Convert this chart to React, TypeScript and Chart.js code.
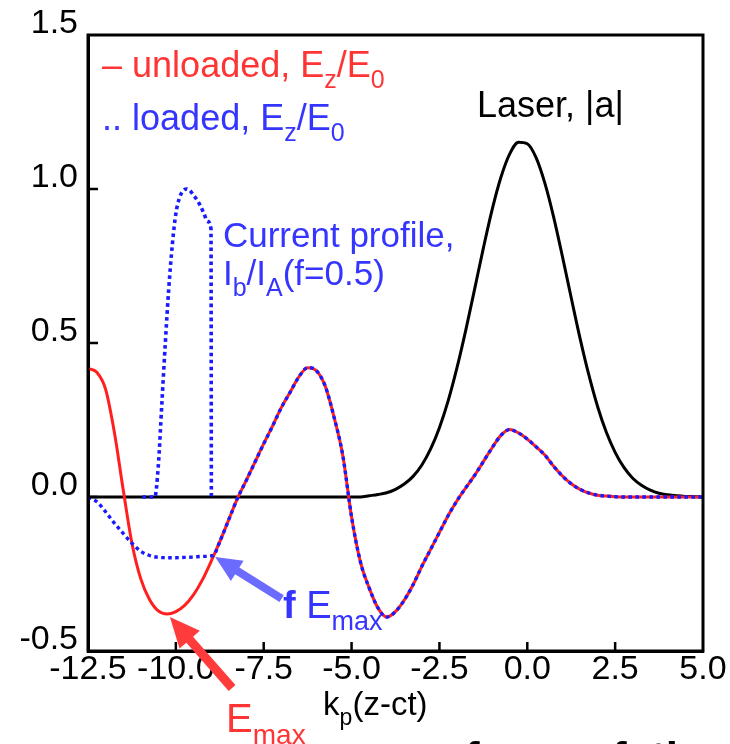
import React, { useEffect, useRef } from "react";
import { Chart, registerables } from "chart.js";
Chart.register(...registerables);

// ---- data ----
const zGrid = [
  -12.5, -12.25, -12.0, -11.75, -11.5, -11.25, -11.0, -10.75, -10.5, -10.25,
  -10.0, -9.75, -9.5, -9.25, -9.0, -8.75, -8.5, -8.25, -8.0, -7.75,
  -7.5, -7.25, -7.0, -6.75, -6.5, -6.25, -6.0, -5.75, -5.5, -5.25,
  -5.0, -4.75, -4.5, -4.25, -4.0, -3.75, -3.5, -3.25, -3.0, -2.75,
  -2.5, -2.25, -2.0, -1.75, -1.5, -1.25, -1.0, -0.75, -0.5, -0.25,
  0.0, 0.25, 0.5, 0.75, 1.0, 1.25, 1.5, 1.75, 2.0, 2.25,
  2.5, 2.75, 3.0, 3.25, 3.5, 3.75, 4.0, 4.25, 4.5, 4.75, 5.0,
];

const laserA = [
  0, 0, 0, 0, 0, 0, 0, 0, 0, 0,
  0, 0, 0, 0, 0, 0, 0, 0, 0, 0,
  0, 0, 0, 0, 0, 0, 0, 0, 0, 0,
  0, 0, 0.004, 0.008, 0.014, 0.025, 0.042, 0.067, 0.104, 0.156,
  0.225, 0.313, 0.42, 0.542, 0.674, 0.808, 0.933, 1.038, 1.114, 1.152,
  1.147, 1.102, 1.019, 0.909, 0.781, 0.647, 0.516, 0.397, 0.294, 0.21,
  0.145, 0.096, 0.061, 0.038, 0.022, 0.012, 0.007, 0.004, 0.002, 0.001, 0,
];

const unloadedEz = [
  0.417, 0.405, 0.35, 0.21, 0.025, -0.15, -0.265, -0.333, -0.37, -0.38,
  -0.372, -0.352, -0.318, -0.27, -0.21, -0.145, -0.075, -0.005, 0.053, 0.113,
  0.173, 0.23, 0.29, 0.34, 0.39, 0.42, 0.41, 0.36, 0.26, 0.135,
  -0.065, -0.21, -0.295, -0.36, -0.39, -0.372, -0.335, -0.285, -0.225, -0.17,
  -0.115, -0.06, -0.012, 0.03, 0.07, 0.115, 0.16, 0.2, 0.219, 0.208,
  0.188, 0.163, 0.136, 0.1, 0.068, 0.043, 0.025, 0.013, 0.006, 0.003,
  0.001, 0, 0, 0, 0, 0, 0, 0, 0, 0, 0,
];

// loaded field: differs from the unloaded one only behind the bunch
const loadedHeadZ = [-12.5, -12.25, -12.0, -11.75, -11.5, -11.25, -11.0, -10.75, -10.5, -10.25, -10.0, -9.75, -9.5, -9.25, -8.94];
const loadedHeadEz = [0.0, -0.015, -0.048, -0.085, -0.118, -0.15, -0.176, -0.19, -0.196, -0.197, -0.197, -0.196, -0.195, -0.193, -0.19];
const loadedJoinZ = -8.75; // from here on the loaded field equals the unloaded one

const currentZ = [-10.95, -10.6, -10.5, -10.4, -10.3, -10.2, -10.1, -10.0, -9.9, -9.8, -9.7, -9.6, -9.5, -9.4, -9.3, -9.2, -9.1, -9.0, -8.99];
const currentIb = [0, 0, 0.1, 0.3, 0.5, 0.68, 0.82, 0.92, 0.97, 0.993, 1.0, 0.995, 0.98, 0.965, 0.945, 0.92, 0.895, 0.87, 0];

const xMin = -12.5, xMax = 5.0, xStep = 2.5;
const yMin = -0.5, yMax = 1.5, yStep = 0.5;

const FONT = '"Liberation Sans", Arial, Helvetica, sans-serif';
const RED = "#ff1f1f";
const BLUE = "#1a1aff";
const RED_TEXT = "#ff3535";
const BLUE_TEXT = "#3535ff";

type Part = [string, "n" | "sub" | "b"];

function zip(xs: number[], ys: number[]) {
  return xs.map((x, i) => ({ x, y: ys[i] }));
}

function drawRich(ctx: CanvasRenderingContext2D, x: number, y: number, parts: Part[], size: number, color: string) {
  ctx.save();
  ctx.fillStyle = color;
  ctx.textBaseline = "alphabetic";
  ctx.textAlign = "left";
  let cx = x;
  for (const [t, k] of parts) {
    if (k === "sub") {
      ctx.font = `${Math.round(size * 0.7)}px ${FONT}`;
      ctx.fillText(t, cx, y + size * 0.3);
    } else {
      ctx.font = `${k === "b" ? "bold " : ""}${size}px ${FONT}`;
      ctx.fillText(t, cx, y);
    }
    cx += ctx.measureText(t).width;
  }
  ctx.restore();
}

function drawArrow(ctx: CanvasRenderingContext2D, x1: number, y1: number, x2: number, y2: number, shaft: number, headLen: number, headW: number, color: string) {
  const dx = x2 - x1, dy = y2 - y1;
  const L = Math.hypot(dx, dy);
  const ux = dx / L, uy = dy / L;
  const nx = -uy, ny = ux;
  const bx = x2 - ux * headLen, by = y2 - uy * headLen;
  ctx.save();
  ctx.fillStyle = color;
  ctx.beginPath();
  ctx.moveTo(x1 + nx * shaft / 2, y1 + ny * shaft / 2);
  ctx.lineTo(bx + nx * shaft / 2, by + ny * shaft / 2);
  ctx.lineTo(bx + nx * headW / 2, by + ny * headW / 2);
  ctx.lineTo(x2, y2);
  ctx.lineTo(bx - nx * headW / 2, by - ny * headW / 2);
  ctx.lineTo(bx - nx * shaft / 2, by - ny * shaft / 2);
  ctx.lineTo(x1 - nx * shaft / 2, y1 - ny * shaft / 2);
  ctx.closePath();
  ctx.fill();
  ctx.restore();
}

const decorPlugin = {
  id: "decor",
  afterDraw(chart: any) {
    const ctx: CanvasRenderingContext2D = chart.ctx;
    const { left, right, top, bottom } = chart.chartArea;
    const xs = chart.scales.x, ys = chart.scales.y;
    const px = (v: number) => xs.getPixelForValue(v);
    const py = (v: number) => ys.getPixelForValue(v);

    // frame
    ctx.save();
    ctx.strokeStyle = "#000";
    ctx.lineWidth = 3;
    ctx.strokeRect(left, top, right - left, bottom - top);
    // inward ticks
    ctx.lineWidth = 2.5;
    ctx.beginPath();
    for (const t of xs.ticks) {
      if (t.value <= xMin || t.value >= xMax) continue;
      const x = px(t.value);
      ctx.moveTo(x, bottom);
      ctx.lineTo(x, bottom - 9);
    }
    for (const t of ys.ticks) {
      if (t.value <= yMin || t.value >= yMax) continue;
      const y = py(t.value);
      ctx.moveTo(left, y);
      ctx.lineTo(left + 10, y);
    }
    ctx.stroke();
    ctx.restore();

    // arrows
    drawArrow(ctx, px(-6.99), py(-0.33), px(-8.88), py(-0.195), 8, 26, 24, "#6b6bff");
    drawArrow(ctx, px(-8.4), py(-0.62), px(-10.17), py(-0.39), 9, 30, 27, "#ff3b3b");

    // texts
    drawRich(ctx, px(-12.1), py(1.3627), [["\u2013 unloaded, E", "n"], ["z", "sub"], ["/E", "n"], ["0", "sub"]], 36, RED_TEXT);
    drawRich(ctx, px(-12.1), py(1.1906), [[".. loaded, E", "n"], ["z", "sub"], ["/E", "n"], ["0", "sub"]], 36, BLUE_TEXT);
    drawRich(ctx, px(-1.43), py(1.2347), [["Laser, |a|", "n"]], 36, "#000");
    drawRich(ctx, px(-8.66), py(0.8117), [["Current profile,", "n"]], 35, BLUE_TEXT);
    drawRich(ctx, px(-8.66), py(0.6873), [["I", "n"], ["b", "sub"], ["/I", "n"], ["A", "sub"], ["(f=0.5)", "n"]], 35, BLUE_TEXT);
    drawRich(ctx, px(-6.95), py(-0.3938), [["f", "b"], [" E", "n"], ["max", "sub"]], 38, BLUE_TEXT);
    drawRich(ctx, px(-8.57), py(-0.764), [["E", "n"], ["max", "sub"]], 40, RED_TEXT);
    drawRich(ctx, px(-5.81), py(-0.7088), [["k", "n"], ["p", "sub"], ["(z-ct)", "n"]], 33, "#000");

    // clipped caption text at the very bottom
    ctx.save();
    ctx.fillStyle = "#000";
    ctx.font = `bold 44px ${FONT}`;
    ctx.textBaseline = "alphabetic";
    ctx.fillText("for", 465, 773);
    ctx.fillText("fati", 612, 773);
    ctx.restore();
  },
};

export default function App() {
  const ref = useRef<HTMLCanvasElement | null>(null);
  useEffect(() => {
    if (!ref.current) return;
    const loadedZ = [...loadedHeadZ, ...zGrid.filter((z) => z >= loadedJoinZ)];
    const loadedEz = [...loadedHeadEz, ...unloadedEz.filter((_, i) => zGrid[i] >= loadedJoinZ)];
    const chart = new Chart(ref.current, {
      type: "line",
      data: {
        datasets: [
          {
            label: "Current profile",
            data: zip(currentZ, currentIb),
            borderColor: BLUE,
            borderWidth: 3.6,
            borderDash: [3.6, 3.4],
            pointRadius: 0,
            cubicInterpolationMode: "monotone",
            order: 1,
          },
          {
            label: "loaded",
            data: zip(loadedZ, loadedEz),
            borderColor: BLUE,
            borderWidth: 3.4,
            borderDash: [3.6, 3.4],
            pointRadius: 0,
            cubicInterpolationMode: "monotone",
            order: 2,
          },
          {
            label: "unloaded",
            data: zip(zGrid, unloadedEz),
            borderColor: RED,
            borderWidth: 3,
            pointRadius: 0,
            cubicInterpolationMode: "monotone",
            order: 3,
          },
          {
            label: "Laser",
            data: zip(zGrid, laserA),
            borderColor: "#000",
            borderWidth: 3,
            pointRadius: 0,
            cubicInterpolationMode: "monotone",
            order: 4,
          },
        ],
      },
      options: {
        responsive: false,
        animation: false,
        layout: { padding: { left: 0, top: 35, right: 27, bottom: 0 } },
        plugins: { legend: { display: false }, tooltip: { enabled: false } },
        scales: {
          x: {
            type: "linear",
            min: xMin,
            max: xMax,
            grid: { display: false, drawTicks: false },
            border: { display: true, color: "#000", width: 3 },
            ticks: {
              stepSize: xStep,
              color: "#000",
              font: { family: FONT, size: 34 },
              padding: -2,
              maxRotation: 0,
              autoSkip: false,
              callback: (v: any) => Number(v).toFixed(1),
            },
            afterFit: (s: any) => { s.height = 93; },
          },
          y: {
            type: "linear",
            min: yMin,
            max: yMax,
            grid: { display: false, drawTicks: false },
            border: { display: true, color: "#000", width: 3 },
            ticks: {
              stepSize: yStep,
              color: "#000",
              font: { family: FONT, size: 34 },
              padding: 10,
              labelOffset: -11,
              callback: (v: any) => Number(v).toFixed(1),
            },
            afterFit: (s: any) => { s.width = 88; },
          },
        },
      } as any,
      plugins: [decorPlugin],
    });
    return () => chart.destroy();
  }, []);
  return (
    <div style={{ position: "absolute", left: 0, top: 0, width: 730, height: 744, background: "#fff" }}>
      <canvas ref={ref} width={730} height={744} style={{ display: "block" }} />
    </div>
  );
}
